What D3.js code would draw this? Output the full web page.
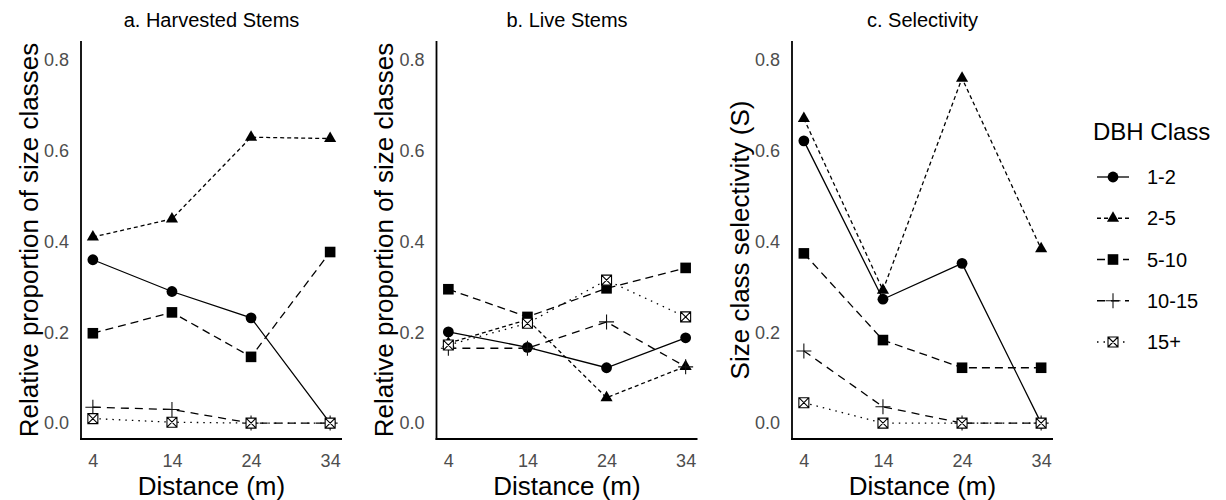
<!DOCTYPE html>
<html>
<head>
<meta charset="utf-8">
<script src="https://cdn.jsdelivr.net/npm/d3@7"></script>
<style>
  html, body { margin: 0; padding: 0; background: #fff; }
  svg { display: block; font-family: "Liberation Sans", Arial, Helvetica, sans-serif; }
</style>
</head>
<body>
<svg id="chart" width="1226" height="500"></svg>
<script>
// Distances from the edge (m) and DBH size classes
const distances = [4, 14, 24, 34];
const dbhClasses = ["1-2", "2-5", "5-10", "10-15", "15+"];
const yTickValues = [0, 0.2, 0.4, 0.6, 0.8];

// Rows follow dbhClasses, columns follow distances
const harvestedStems = [
  [0.36, 0.29, 0.232, 0.0],
  [0.41, 0.45, 0.63, 0.627],
  [0.198, 0.244, 0.146, 0.377],
  [0.035, 0.03, 0.0, 0.0],
  [0.01, 0.002, 0.0, 0.0]
];
const liveStems = [
  [0.201, 0.167, 0.122, 0.188],
  [0.176, 0.228, 0.056, 0.125],
  [0.295, 0.234, 0.297, 0.342],
  [0.165, 0.165, 0.223, 0.124],
  [0.172, 0.22, 0.315, 0.234]
];
const selectivity = [
  [0.622, 0.273, 0.352, 0.0],
  [0.671, 0.293, 0.76, 0.384],
  [0.374, 0.183, 0.122, 0.122],
  [0.159, 0.036, 0.0, 0.0],
  [0.045, 0.0, 0.0, 0.0]
];

const panelTitles = ["a. Harvested Stems", "b. Live Stems", "c. Selectivity"];
const yTitles = ["Relative proportion of size classes", "Relative proportion of size classes", "Size class selectivity (S)"];
const xTitle = "Distance (m)";
const legendTitle = "DBH Class";

// Line dash pattern and marker per size class
const dashStyles = [null, "4,3", "8,5", "8,6", "1.5,5"];
const markerKinds = ["circle", "triangle", "square", "plus", "squarecross"];

const svg = d3.select("#chart");
const panels = [
  { data: harvestedStems, left: 81 },
  { data: liveStems, left: 436.5 },
  { data: selectivity, left: 792 }
];
const panelWidth = 261;
const plotTop = 41, plotBottom = 439;

const y = d3.scaleLinear().domain([-0.035, 0.842]).range([plotBottom, plotTop]);

function drawMarker(g, kind, cx, cy) {
  if (kind === "circle") {
    g.append("circle").attr("cx", cx).attr("cy", cy).attr("r", 5.4).attr("fill", "#000");
  } else if (kind === "triangle") {
    const R = 7;
    g.append("path")
      .attr("d", `M${cx},${cy - R}L${cx + R * 0.866},${cy + R / 2}L${cx - R * 0.866},${cy + R / 2}Z`)
      .attr("fill", "#000");
  } else if (kind === "square") {
    const h = 5.3;
    g.append("rect").attr("x", cx - h).attr("y", cy - h).attr("width", 2 * h).attr("height", 2 * h).attr("fill", "#000");
  } else if (kind === "plus") {
    const h = 7.5;
    g.append("path")
      .attr("d", `M${cx - h},${cy}H${cx + h}M${cx},${cy - h}V${cy + h}`)
      .attr("stroke", "#111").attr("stroke-width", 1.1).attr("fill", "none");
  } else if (kind === "squarecross") {
    const h = 5;
    g.append("path")
      .attr("d", `M${cx - h},${cy - h}H${cx + h}V${cy + h}H${cx - h}Z M${cx - h},${cy - h}L${cx + h},${cy + h}M${cx + h},${cy - h}L${cx - h},${cy + h}`)
      .attr("stroke", "#000").attr("stroke-width", 1.1).attr("fill", "#fff");
  }
}

panels.forEach((p, pi) => {
  const x = d3.scaleLinear().domain([2.5, 35.5]).range([p.left, p.left + panelWidth]);
  const g = svg.append("g");

  // axes (no tick marks, L-shaped axis lines)
  const yAxis = d3.axisLeft(y).tickValues(yTickValues).tickFormat(d3.format(".1f"))
    .tickSize(0).tickPadding(12);
  const xAxis = d3.axisBottom(x).tickValues(distances).tickFormat(d3.format("d"))
    .tickSize(0).tickPadding(15);

  const ya = g.append("g").attr("transform", `translate(${p.left},0)`).call(yAxis);
  const xa = g.append("g").attr("transform", `translate(0,${plotBottom})`).call(xAxis);
  [ya, xa].forEach(a => {
    a.select(".domain").attr("stroke", "#000").attr("stroke-width", 1.8);
    a.selectAll("text").attr("fill", "#4d4d4d").style("font-size", "18px")
      .style("font-family", "'Liberation Sans', Arial, sans-serif");
  });
  // extend the domain lines so they meet at the corner
  ya.select(".domain").attr("d", `M0,${plotTop}V${plotBottom + 0.9}`);
  xa.select(".domain").attr("d", `M${p.left - 0.9},0H${p.left + panelWidth}`);

  // panel title
  g.append("text").attr("x", p.left + panelWidth / 2).attr("y", 27)
    .attr("text-anchor", "middle").style("font-size", "20px").attr("fill", "#000")
    .text(panelTitles[pi]);

  // axis titles
  g.append("text").attr("x", p.left + panelWidth / 2).attr("y", 495)
    .attr("text-anchor", "middle").style("font-size", "26px").attr("fill", "#000")
    .text(xTitle);
  const yTitleX = p.left - 43.5;
  g.append("text")
    .attr("transform", `translate(${yTitleX},${(plotTop + plotBottom) / 2}) rotate(-90)`)
    .attr("text-anchor", "middle").style("font-size", "26px").attr("fill", "#000")
    .text(yTitles[pi]);

  const line = d3.line().x((d, i) => x(distances[i])).y(d => y(d));

  // lines for every size class
  p.data.forEach((vals, ci) => {
    g.append("path").datum(vals).attr("d", line)
      .attr("fill", "none").attr("stroke", "#000").attr("stroke-width", 1.3)
      .attr("stroke-dasharray", dashStyles[ci]);
  });
  // points on top
  p.data.forEach((vals, ci) => {
    vals.forEach((v, i) => drawMarker(g, markerKinds[ci], x(distances[i]), y(v)));
  });
});

// legend
const lg = svg.append("g");
lg.append("text").attr("x", 1093).attr("y", 140).style("font-size", "24px").attr("fill", "#000").text(legendTitle);
const legendY = d3.scalePoint().domain(dbhClasses).range([177, 342]);
dbhClasses.forEach((c, ci) => {
  const ly = legendY(c);
  lg.append("line").attr("x1", 1097).attr("x2", 1129).attr("y1", ly).attr("y2", ly)
    .attr("stroke", "#000").attr("stroke-width", 1.3).attr("stroke-dasharray", dashStyles[ci]);
  drawMarker(lg, markerKinds[ci], 1113, ly);
  lg.append("text").attr("x", 1147).attr("y", ly).attr("dy", "0.36em")
    .style("font-size", "20px").attr("fill", "#000").text(c);
});
</script>
</body>
</html>
